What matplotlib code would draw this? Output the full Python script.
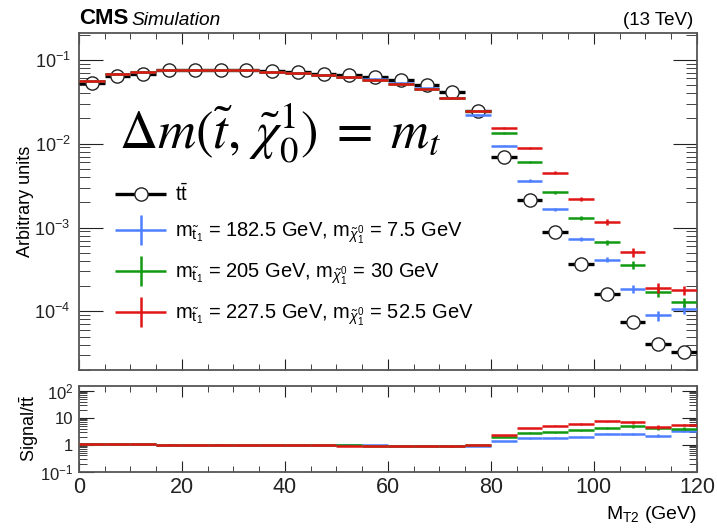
import numpy as np
import matplotlib
matplotlib.use("Agg")
import matplotlib.pyplot as plt
from matplotlib.ticker import FixedLocator, FixedFormatter, MultipleLocator, NullFormatter
from matplotlib.legend_handler import HandlerErrorbar

plt.rcParams['font.family'] = ['Liberation Sans', 'DejaVu Sans']
plt.rcParams['mathtext.fontset'] = 'custom'
plt.rcParams['mathtext.rm'] = 'Liberation Sans'
plt.rcParams['mathtext.it'] = 'Liberation Sans:italic'

# M_T2 bins, 5 GeV wide
bin_edges = np.arange(0, 125, 5)
bin_centers = 0.5 * (bin_edges[:-1] + bin_edges[1:])

ttbar = [0.0528, 0.0645, 0.068, 0.0746, 0.076, 0.0746, 0.075, 0.0726, 0.0706, 0.068,
         0.0657, 0.0622, 0.0578, 0.0504, 0.0408, 0.0247, 0.00687, 0.00211, 0.000888, 0.00037,
         0.000159, 7.46e-5, 4.12e-5, 3.28e-5]
sig_blue = [0.056, 0.068, 0.072, 0.0755, 0.0765, 0.0755, 0.075, 0.072, 0.069, 0.0665,
            0.0625, 0.0594, 0.0535, 0.046, 0.0355, 0.0221, 0.00946, 0.00363, 0.00164, 0.000733,
            0.000412, 0.000186, 8.96e-5, 0.000108]
sig_green = [0.056, 0.068, 0.072, 0.0755, 0.0765, 0.0755, 0.075, 0.072, 0.069, 0.066,
             0.062, 0.058, 0.052, 0.045, 0.0353, 0.0247, 0.0134, 0.006, 0.00263, 0.00129,
             0.000668, 0.00036, 0.000172, 0.000129]
sig_red = [0.056, 0.068, 0.072, 0.0755, 0.0765, 0.0755, 0.075, 0.072, 0.069, 0.0657,
           0.0616, 0.0573, 0.0518, 0.0448, 0.0353, 0.0247, 0.0154, 0.0089, 0.00452, 0.00221,
           0.00116, 0.000508, 0.000191, 0.000178]

# relative stat. uncertainties of the signal samples
rel_err_blue = [0.01] * 16 + [0.02, 0.03, 0.04, 0.05, 0.07, 0.1, 0.14, 0.13]
rel_err_green = [0.01] * 16 + [0.02, 0.03, 0.04, 0.05, 0.07, 0.1, 0.13, 0.13]
rel_err_red = [0.01] * 16 + [0.02, 0.03, 0.04, 0.06, 0.08, 0.12, 0.14, 0.12]

signals = [
    ("$\\mathrm{m}_{\\tilde{\\mathrm{t}}_1}$ = 182.5 GeV, $\\mathrm{m}_{\\tilde{\\chi}^0_1}$ = 7.5 GeV", sig_blue, rel_err_blue, "#4d7fff"),
    ("$\\mathrm{m}_{\\tilde{\\mathrm{t}}_1}$ = 205 GeV, $\\mathrm{m}_{\\tilde{\\chi}^0_1}$ = 30 GeV", sig_green, rel_err_green, "#119911"),
    ("$\\mathrm{m}_{\\tilde{\\mathrm{t}}_1}$ = 227.5 GeV, $\\mathrm{m}_{\\tilde{\\chi}^0_1}$ = 52.5 GeV", sig_red, rel_err_red, "#e01515"),
]

fig = plt.figure(figsize=(7.17, 5.29), dpi=100)
ax = fig.add_axes([0.110, 0.3006, 0.862, 0.6361])
rax = fig.add_axes([0.110, 0.1083, 0.862, 0.1626])

tt = np.array(ttbar)
handles = []
hmap = {}
h = ax.errorbar(bin_centers, tt, xerr=2.5, yerr=tt * 0.02, fmt='o', color='black',
                mfc='white', mec='#222222', ms=9.5, mew=1.0, elinewidth=2.4, capsize=0,
                label="t$\\bar{\\mathrm{t}}$", zorder=3)
handles.append(h)
hmap[h] = HandlerErrorbar(xerr_size=1.25, yerr_size=0.0)
for label, vals, rel, col in signals:
    v = np.array(vals)
    h = ax.errorbar(bin_centers, v, xerr=2.5, yerr=v * np.array(rel), fmt='none',
                    ecolor=col, elinewidth=1.8, capsize=0, label=label, zorder=4)
    handles.append(h)
    hmap[h] = HandlerErrorbar(xerr_size=1.25, yerr_size=0.75)
    ratio = v / tt
    rax.errorbar(bin_centers, ratio, xerr=2.5, yerr=ratio * np.array(rel), fmt='none',
                 ecolor=col, elinewidth=1.8, capsize=0, zorder=4)

ax.set_yscale('log')
ax.set_ylim(2e-5, 0.206)
ax.set_xlim(0, 120)
rax.set_yscale('log')
rax.set_ylim(0.1, 155)
rax.set_xlim(0, 120)

for a in (ax, rax):
    a.xaxis.set_major_locator(MultipleLocator(20))
    a.xaxis.set_minor_locator(MultipleLocator(5))
    a.tick_params(which='both', direction='in', top=True, right=True, colors='#222222')
    for s in a.spines.values():
        s.set_linewidth(1.3)
        s.set_color('#555555')

ax.tick_params(axis='x', which='major', length=8, labelbottom=False)
ax.tick_params(axis='x', which='minor', length=4)
ax.tick_params(axis='y', which='major', length=17, labelsize=13, pad=6)
ax.tick_params(axis='y', which='minor', length=8)
ax.set_yticks([1e-4, 1e-3, 1e-2, 1e-1])
ax.set_yticklabels(["$10^{-4}$", "$10^{-3}$", "$10^{-2}$", "$10^{-1}$"])
ax.set_ylabel("Arbitrary units", fontsize=13, loc='center', labelpad=0)

rax.tick_params(axis='x', which='major', length=8, labelsize=15.5, pad=4)
rax.tick_params(axis='x', which='minor', length=4)
rax.tick_params(axis='y', which='major', length=11, labelsize=12, pad=4)
rax.tick_params(axis='y', which='minor', length=6)
rax.yaxis.set_major_locator(FixedLocator([0.1, 1, 10, 100]))
rax.yaxis.set_major_formatter(FixedFormatter(["$10^{-1}$", "1", "10", "$10^{2}$"]))
rax.yaxis.set_minor_formatter(NullFormatter())
rax.set_ylabel("Signal/t$\\bar{\\mathrm{t}}$", fontsize=13, labelpad=-1)
rax.set_xlabel("M$_{\\mathrm{T2}}$ (GeV)", fontsize=14)
rax.xaxis.set_label_coords(1.0, -0.37)
rax.xaxis.label.set_ha('right')

fig.text(0.110, 0.945, "CMS", fontsize=16, fontweight='bold', va='bottom')
fig.text(0.184, 0.945, "Simulation", fontsize=13.8, style='italic', va='bottom')
fig.text(0.967, 0.945, "(13 TeV)", fontsize=13.5, ha='right', va='bottom')

ax.text(0.065, 0.66, "$\\Delta m(\\tilde{t},\\,\\tilde{\\chi}_0^1)\\;=\\;m_t$",
        transform=ax.transAxes, fontsize=38, family='DejaVu Serif',
        math_fontfamily='stix', va='baseline')

ax.legend(handles=handles, handler_map=hmap, loc='upper left',
          bbox_to_anchor=(0.046, 0.58), frameon=False,
          fontsize=14.5, handlelength=2.5, handletextpad=0.45, labelspacing=0.8,
          borderaxespad=0)

fig.savefig("out.png", dpi=100)
